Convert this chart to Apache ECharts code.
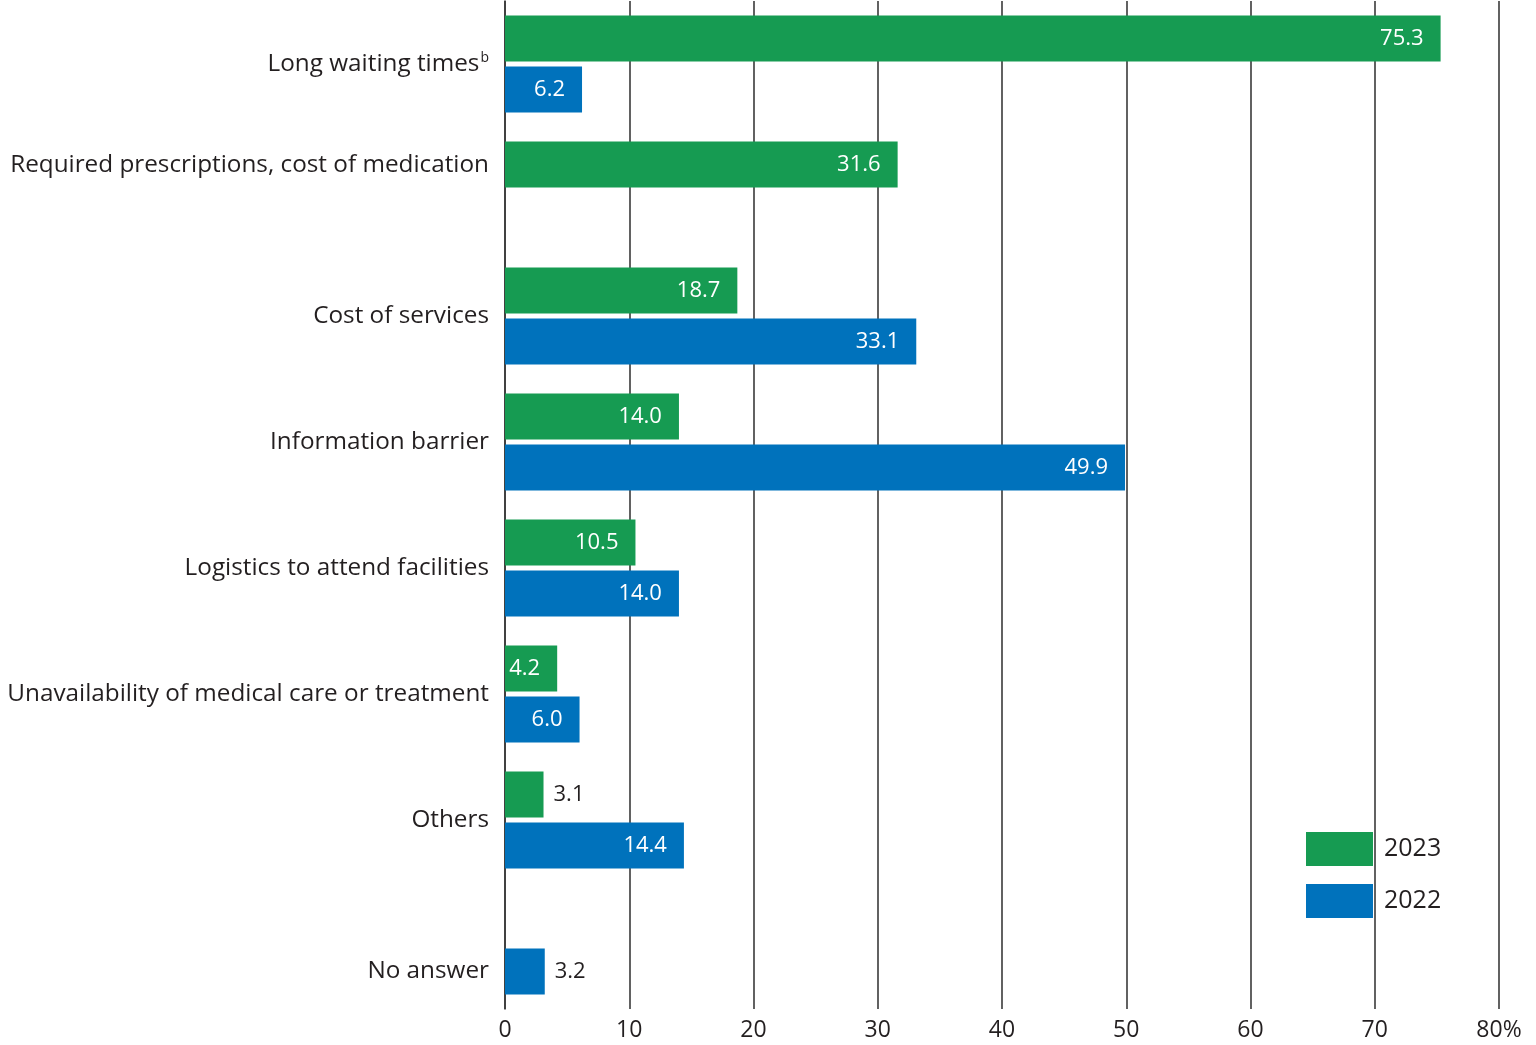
<!DOCTYPE html>
<html><head><meta charset="utf-8">
<script src="https://cdn.jsdelivr.net/npm/echarts@6/dist/echarts.min.js"></script>
<style>html,body{margin:0;padding:0;background:#fff}#c{width:1536px;height:1045px}</style>
</head><body><div id="c"></div>
<script>
const categories = ['Long waiting times', 'Required prescriptions, cost of medication', 'Cost of services', 'Information barrier', 'Logistics to attend facilities', 'Unavailability of medical care or treatment', 'Others', 'No answer'];
const values2023 = [75.3, 31.6, 18.7, 14.0, 10.5, 4.2, 3.1, null];
const values2022 = [6.2, null, 33.1, 49.9, 14.0, 6.0, 14.4, 3.2];
const xTicks = [0, 10, 20, 30, 40, 50, 60, 70, 80];

const FONT = '"Open Sans", sans-serif';
const TXT = '#231f20';
const CAT_FS = 24.3;

function mkData(arr) {
  return arr.map(v => {
    if (v === null) return null;
    const outside = v < 4;
    return {
      value: v,
      label: outside
        ? { position: 'right', distance: 10, color: TXT }
        : { position: 'insideRight', distance: 17, color: '#fff' }
    };
  });
}

function catLabel(v) {
  const idx = categories.indexOf(v);
  let style = 'a';
  if (values2022[idx] === null) style = 'up';
  else if (values2023[idx] === null) style = 'dn';
  if (v === 'Long waiting times') return '{a|' + v + '}{s|b}';
  return '{' + style + '|' + v + '}';
}

const chart = echarts.init(document.getElementById('c'), null, { renderer: 'canvas' });
chart.setOption({
  animation: false,
  textStyle: { fontFamily: FONT },
  grid: { left: 505, right: 37, top: 1, bottom: 36, containLabel: false, outerBoundsMode: 'none' },
  legend: {
    orient: 'vertical', left: 1306, top: 832, padding: 0,
    itemWidth: 67, itemHeight: 34, itemGap: 18,
    icon: 'rect',
    data: ['2023', '2022'],
    textStyle: { fontSize: 25, color: TXT, fontFamily: FONT, padding: [0, 0, 0, 6] }
  },
  xAxis: {
    type: 'value', min: 0, max: 80, interval: 10,
    axisLine: { show: false }, axisTick: { show: false },
    splitLine: { show: true, lineStyle: { color: '#3a3a3a', width: 1.6 } },
    axisLabel: {
      fontSize: 23, color: TXT, fontFamily: FONT, margin: 10,
      formatter: v => xTicks.includes(v) ? (v === 80 ? '80%' : String(v)) : ''
    }
  },
  yAxis: {
    type: 'category', data: categories, inverse: true,
    axisLine: { show: true, lineStyle: { color: '#3a3a3a', width: 1.6 } },
    axisTick: { show: false },
    axisLabel: {
      fontSize: CAT_FS, color: TXT, fontFamily: FONT, margin: 16,
      formatter: catLabel,
      rich: {
        a: { fontSize: CAT_FS, color: TXT, fontFamily: FONT },
        up: { fontSize: CAT_FS, color: TXT, fontFamily: FONT, padding: [0, 0, 50, 0] },
        dn: { fontSize: CAT_FS, color: TXT, fontFamily: FONT, padding: [50, 0, 0, 0] },
        s: { fontSize: 14, color: TXT, fontFamily: FONT, padding: [0, 0, 12, 1] }
      }
    }
  },
  series: [
    {
      name: '2023', type: 'bar', data: mkData(values2023),
      barWidth: 46, barGap: '11%',
      itemStyle: { color: '#169b52' },
      label: { show: true, fontSize: 22, fontFamily: FONT, formatter: p => p.value.toFixed(1) }
    },
    {
      name: '2022', type: 'bar', data: mkData(values2022),
      barWidth: 46, barGap: '11%',
      itemStyle: { color: '#0072bc' },
      label: { show: true, fontSize: 22, fontFamily: FONT, formatter: p => p.value.toFixed(1) }
    }
  ]
});
</script></body></html>
